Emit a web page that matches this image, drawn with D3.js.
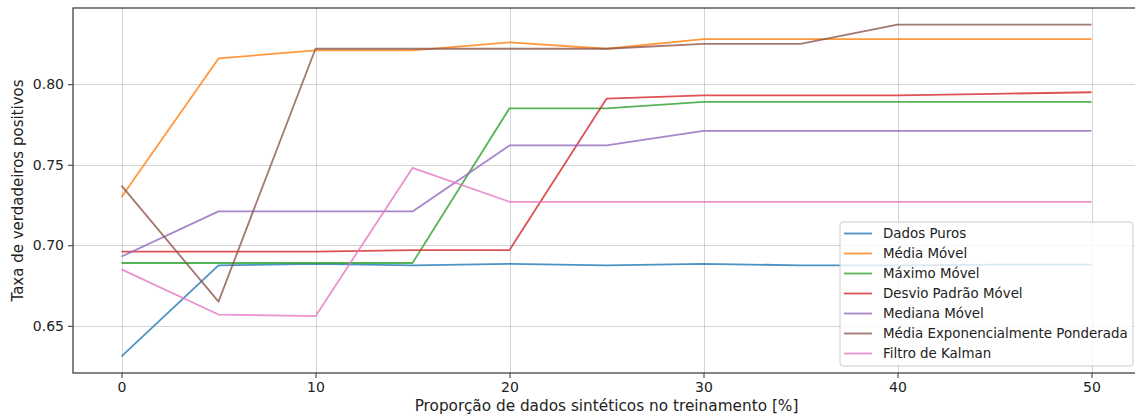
<!DOCTYPE html>
<html>
<head>
<meta charset="utf-8">
<script src="https://cdn.jsdelivr.net/npm/d3@7"></script>
<style>
  html, body { margin: 0; padding: 0; background: #fff; }
  svg { display: block; font-family: "DejaVu Sans", sans-serif; }
</style>
</head>
<body>
<svg id="chart" width="1135" height="416"></svg>
<script>
// Proportion of synthetic data in training (%)
const proportions = [0, 5, 10, 15, 20, 25, 30, 35, 40, 45, 50];

// True-positive rate for each preprocessing method
const dadosPuros      = [0.631, 0.6875, 0.6885, 0.6875, 0.6885, 0.6875, 0.6885, 0.6875, 0.6875, 0.688, 0.688];
const mediaMovel      = [0.730, 0.816, 0.821, 0.821, 0.826, 0.822, 0.828, 0.828, 0.828, 0.828, 0.828];
const maximoMovel     = [0.689, 0.689, 0.689, 0.689, 0.785, 0.785, 0.789, 0.789, 0.789, 0.789, 0.789];
const desvioPadrao    = [0.696, 0.696, 0.696, 0.697, 0.697, 0.791, 0.793, 0.793, 0.793, 0.794, 0.795];
const medianaMovel    = [0.693, 0.721, 0.721, 0.721, 0.762, 0.762, 0.771, 0.771, 0.771, 0.771, 0.771];
const mediaExponencial= [0.737, 0.665, 0.822, 0.822, 0.822, 0.822, 0.825, 0.825, 0.837, 0.837, 0.837];
const filtroKalman    = [0.685, 0.657, 0.656, 0.748, 0.727, 0.727, 0.727, 0.727, 0.727, 0.727, 0.727];

const seriesNames = ["Dados Puros", "Média Móvel", "Máximo Móvel", "Desvio Padrão Móvel",
                     "Mediana Móvel", "Média Exponencialmente Ponderada", "Filtro de Kalman"];
const seriesValues = [dadosPuros, mediaMovel, maximoMovel, desvioPadrao,
                      medianaMovel, mediaExponencial, filtroKalman];
const seriesColors = ["#1f77b4", "#ff7f0e", "#2ca02c", "#d62728", "#9467bd", "#8c564b", "#e377c2"];

const xTicks = [0, 10, 20, 30, 40, 50];
const yTicks = [0.65, 0.70, 0.75, 0.80];

const xLabel = "Proporção de dados sintéticos no treinamento [%]";
const yLabel = "Taxa de verdadeiros positivos";

// Plot frame
const frame = { left: 73, top: 8, right: 1140, bottom: 373 };

const svg = d3.select("#chart");

// Domains padded by 5% of the data span on each side
const xMin = d3.min(proportions), xMax = d3.max(proportions);
const xPad = (xMax - xMin) * 0.05;
const allVals = seriesValues.flat();
const yMin = d3.min(allVals), yMax = d3.max(allVals);
const yPad = (yMax - yMin) * 0.05;

const x = d3.scaleLinear().domain([xMin - xPad, xMax + xPad]).range([frame.left, frame.right]);
const y = d3.scaleLinear().domain([yMin - yPad, yMax + yPad]).range([frame.bottom, frame.top]);

// Grid
const grid = svg.append("g").attr("stroke", "#b0b0b0").attr("stroke-opacity", 0.55).attr("stroke-width", 1);
grid.selectAll("line.gx").data(xTicks).join("line")
  .attr("x1", d => Math.round(x(d)) + 0.5).attr("x2", d => Math.round(x(d)) + 0.5)
  .attr("y1", frame.top).attr("y2", frame.bottom);
grid.selectAll("line.gy").data(yTicks).join("line")
  .attr("y1", d => Math.round(y(d)) + 0.5).attr("y2", d => Math.round(y(d)) + 0.5)
  .attr("x1", frame.left).attr("x2", frame.right);

// Series lines
const line = d3.line().x((d, i) => x(proportions[i])).y(d => y(d));
svg.append("g").selectAll("path").data(seriesValues).join("path")
  .attr("d", d => line(d))
  .attr("fill", "none")
  .attr("stroke", (d, i) => seriesColors[i])
  .attr("stroke-opacity", 0.8)
  .attr("stroke-width", 1.8)
  .attr("stroke-linejoin", "round");

// Axes
const xAxis = svg.append("g").attr("transform", `translate(0,${frame.bottom})`)
  .call(d3.axisBottom(x).tickValues(xTicks).tickFormat(d3.format("d")).tickSize(5).tickPadding(4).tickSizeOuter(0));
const yAxis = svg.append("g").attr("transform", `translate(${frame.left},0)`)
  .call(d3.axisLeft(y).tickValues(yTicks).tickFormat(d3.format(".2f")).tickSize(5).tickPadding(4).tickSizeOuter(0));
[xAxis, yAxis].forEach(a => {
  a.select(".domain").remove();
  a.selectAll("text").attr("font-family", "DejaVu Sans").attr("font-size", 14).attr("fill", "#222");
  a.selectAll("line").attr("stroke", "#333");
});

// Spines
svg.append("rect")
  .attr("x", frame.left).attr("y", frame.top)
  .attr("width", frame.right - frame.left).attr("height", frame.bottom - frame.top)
  .attr("fill", "none").attr("stroke", "#333").attr("stroke-width", 1.2);

// Axis labels
svg.append("text")
  .attr("x", (frame.left + frame.right) / 2).attr("y", 411)
  .attr("text-anchor", "middle")
  .attr("font-size", 15.3).attr("fill", "#222")
  .text(xLabel);
svg.append("text")
  .attr("transform", `translate(23,${(frame.top + frame.bottom) / 2}) rotate(-90)`)
  .attr("text-anchor", "middle")
  .attr("font-size", 15).attr("fill", "#222")
  .text(yLabel);

// Legend (lower right)
const legW = 293, legH = 144;
const legX = frame.right - 7 - legW, legY = frame.bottom - 7 - legH;
const legend = svg.append("g").attr("transform", `translate(${legX},${legY})`);
legend.append("rect")
  .attr("width", legW).attr("height", legH).attr("rx", 3)
  .attr("fill", "#fff").attr("fill-opacity", 0.8)
  .attr("stroke", "#ccc").attr("stroke-width", 1);
const rows = legend.selectAll("g.row").data(seriesNames).join("g")
  .attr("transform", (d, i) => `translate(0,${11.5 + i * 20})`);
rows.append("line")
  .attr("x1", 4).attr("x2", 32)
  .attr("stroke", (d, i) => seriesColors[i])
  .attr("stroke-opacity", 0.8).attr("stroke-width", 1.8);
rows.append("text")
  .attr("x", 43).attr("dy", "0.35em")
  .attr("font-size", 13.4).attr("fill", "#222")
  .text(d => d);
</script>
</body>
</html>
